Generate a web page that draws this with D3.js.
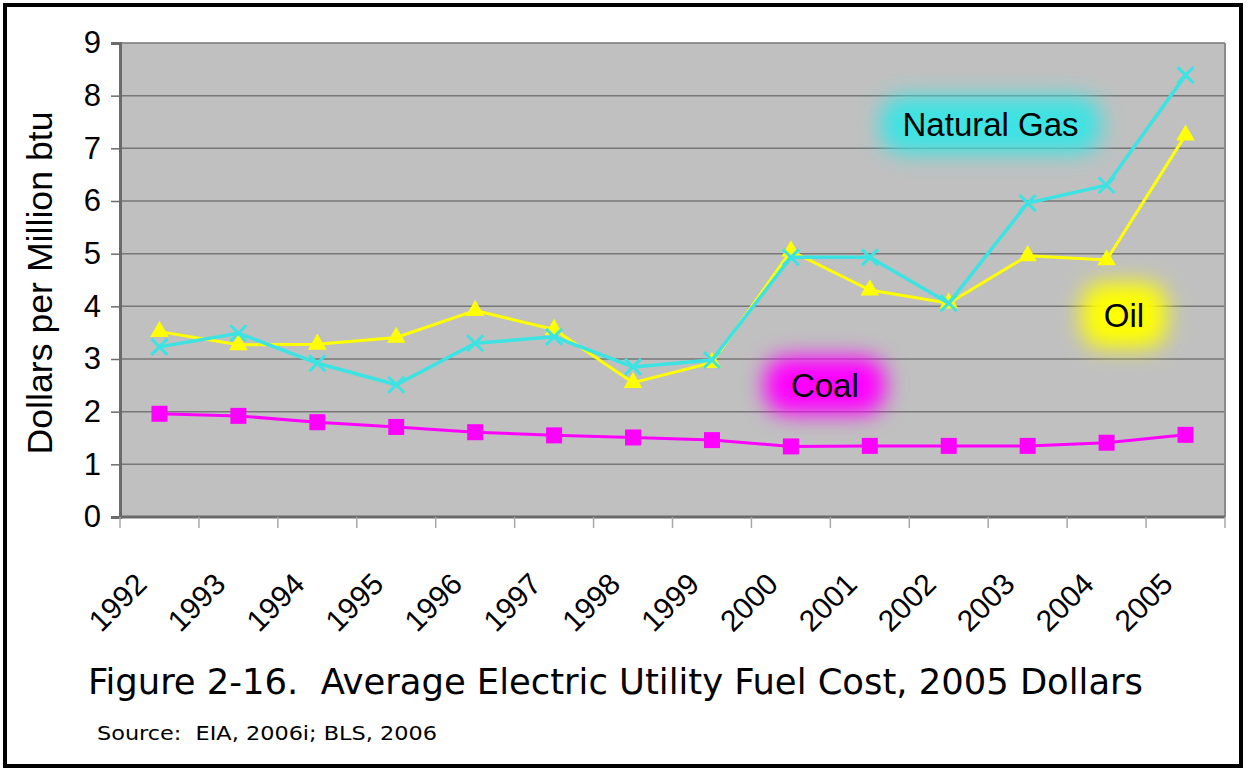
<!DOCTYPE html>
<html>
<head>
<meta charset="utf-8">
<script src="https://cdn.jsdelivr.net/npm/d3@7"></script>
<style>
  body { margin: 0; background: #fff; }
  svg { display: block; }
  text { white-space: pre; }
  .arial { font-family: Arial, "Liberation Sans", Arimo, Helvetica, sans-serif; }
  .cap { font-family: "DejaVu Sans Condensed", "DejaVu Sans", sans-serif; font-stretch: condensed; }
</style>
</head>
<body>
<div id="chart"></div>
<script>

// Fuel cost, 2005 dollars per million btu
var years = ["1992", "1993", "1994", "1995", "1996", "1997", "1998",
             "1999", "2000", "2001", "2002", "2003", "2004", "2005"];
var coal = [1.96, 1.92, 1.80, 1.71, 1.61, 1.55, 1.51, 1.46, 1.34, 1.35, 1.35, 1.35, 1.41, 1.56];
var oil  = [3.52, 3.27, 3.28, 3.41, 3.92, 3.56, 2.55, 2.93, 5.05, 4.31, 4.06, 4.96, 4.88, 7.25];
var gas  = [3.23, 3.49, 2.92, 2.51, 3.30, 3.42, 2.85, 2.98, 4.93, 4.93, 4.06, 5.96, 6.30, 8.39];
var yTicks = [0, 1, 2, 3, 4, 5, 6, 7, 8, 9];

// series labels: position given as (category index, value)
var seriesLabels = [
    { text: "Natural Gas", idx: 11.03, v: 7.23, color: "#3de3e3", padX: 22, padY: 14 },
    { text: "Coal",        idx: 8.93,  v: 2.28, color: "#ff00ff", padX: 26, padY: 14 },
    { text: "Oil",         idx: 12.72, v: 3.61, color: "#ffff00", padX: 22, padY: 18 }
];


/*
 *  FuelChart - Object constructor function
 */
FuelChart = function(_parentElement) {
    this.parentElement = _parentElement;
    this.initVis();
}

FuelChart.prototype.initVis = function() {
    var vis = this;

    vis.width = 1249;
    vis.height = 771;
    vis.plot = { left: 120, right: 1225, top: 43, bottom: 517 };

    vis.svg = d3.select("#" + vis.parentElement).append("svg")
        .attr("width", vis.width)
        .attr("height", vis.height);

    // blur filter for the glowing labels
    var defs = vis.svg.append("defs");
    defs.append("filter")
        .attr("id", "glow")
        .attr("x", "-60%").attr("y", "-80%")
        .attr("width", "220%").attr("height", "260%")
      .append("feGaussianBlur")
        .attr("stdDeviation", 11);

    // outer frame
    vis.svg.append("rect")
        .attr("x", 5).attr("y", 5)
        .attr("width", 1236).attr("height", 761)
        .attr("fill", "none")
        .attr("stroke", "#000")
        .attr("stroke-width", 4);

    vis.x = d3.scaleBand().domain(years).range([vis.plot.left, vis.plot.right]);
    vis.xi = d3.scaleLinear().domain([0, years.length]).range([vis.plot.left, vis.plot.right]);
    vis.y = d3.scaleLinear().domain([0, 9]).range([vis.plot.bottom, vis.plot.top]);

    vis.updateVis();
}

FuelChart.prototype.updateVis = function() {
    var vis = this;
    var p = vis.plot;

    // plot background
    vis.svg.append("rect")
        .attr("x", p.left).attr("y", p.top)
        .attr("width", p.right - p.left).attr("height", p.bottom - p.top)
        .attr("fill", "#c0c0c0");

    // gridlines
    vis.svg.append("g")
        .selectAll("line").data(yTicks.filter(function(d) { return d > 0; }))
        .enter().append("line")
        .attr("x1", p.left).attr("x2", p.right)
        .attr("y1", function(d) { return vis.y(d); })
        .attr("y2", function(d) { return vis.y(d); })
        .attr("stroke", "#777")
        .attr("stroke-width", 1.5);

    // right border
    vis.svg.append("line")
        .attr("x1", p.right).attr("x2", p.right)
        .attr("y1", p.top).attr("y2", p.bottom)
        .attr("stroke", "#8a8a8a").attr("stroke-width", 2);

    // y axis
    var yAxis = d3.axisLeft(vis.y).tickValues(yTicks).tickSize(9).tickPadding(10);
    var yg = vis.svg.append("g")
        .attr("transform", "translate(" + p.left + ",0)")
        .call(yAxis)
        .attr("font-family", null)
        .attr("font-size", null);
    yg.select(".domain").attr("stroke", "#6b6b6b").attr("stroke-width", 3);
    yg.selectAll(".tick line").attr("stroke", "#6b6b6b").attr("stroke-width", 1.5);
    yg.selectAll(".tick text")
        .attr("class", "arial")
        .attr("font-size", 31)
        .attr("fill", "#000");

    // x axis: ticks on category boundaries
    var xg = vis.svg.append("g");
    xg.append("line")
        .attr("x1", p.left).attr("x2", p.right)
        .attr("y1", p.bottom).attr("y2", p.bottom)
        .attr("stroke", "#6b6b6b").attr("stroke-width", 3);
    xg.selectAll(".xtick").data(d3.range(years.length + 1))
        .enter().append("line")
        .attr("class", "xtick")
        .attr("x1", function(i) { return vis.xi(i); })
        .attr("x2", function(i) { return vis.xi(i); })
        .attr("y1", p.bottom).attr("y2", p.bottom + 11)
        .attr("stroke", "#a8a8a8").attr("stroke-width", 1.5);
    xg.selectAll(".xlabel").data(years)
        .enter().append("text")
        .attr("class", "arial")
        .attr("transform", function(d) {
            return "translate(" + (vis.x(d) + vis.x.bandwidth() / 2 - 11) + "," + (p.bottom + 69) + ") rotate(-45)";
        })
        .attr("text-anchor", "end")
        .attr("font-size", 30)
        .text(function(d) { return d; });

    // y axis title
    vis.svg.append("text")
        .attr("class", "arial")
        .attr("transform", "translate(52,283) rotate(-90)")
        .attr("text-anchor", "middle")
        .attr("font-size", 35)
        .attr("textLength", 343)
        .attr("lengthAdjust", "spacingAndGlyphs")
        .text("Dollars per Million btu");

    // glowing series labels
    seriesLabels.forEach(function(l) {
        var g = vis.svg.append("g");
        var glow = g.append("rect").attr("fill", l.color).attr("filter", "url(#glow)");
        var t = g.append("text")
            .attr("class", "arial")
            .attr("x", vis.xi(l.idx))
            .attr("y", vis.y(l.v))
            .attr("text-anchor", "middle")
            .attr("font-size", 33)
            .attr("fill", "#000")
            .text(l.text);
        var bb = t.node().getBBox();
        glow.attr("x", bb.x - l.padX).attr("y", bb.y - l.padY + 4)
            .attr("width", bb.width + 2 * l.padX).attr("height", bb.height + 2 * l.padY - 8)
            .attr("rx", 22);
        t.raise();
    });

    var cx = function(d, i) { return vis.x(years[i]) + vis.x.bandwidth() / 2; };
    var line = d3.line()
        .x(function(d, i) { return cx(d, i); })
        .y(function(d) { return vis.y(d); });

    // coal
    vis.svg.append("path").datum(coal)
        .attr("d", line).attr("fill", "none")
        .attr("stroke", "#ff00ff").attr("stroke-width", 3);
    vis.svg.selectAll(".coalPt").data(coal)
        .enter().append("rect")
        .attr("class", "coalPt")
        .attr("x", function(d, i) { return cx(d, i) - 8; })
        .attr("y", function(d) { return vis.y(d) - 8; })
        .attr("width", 16).attr("height", 16)
        .attr("fill", "#ff00ff");

    // oil
    vis.svg.append("path").datum(oil)
        .attr("d", line).attr("fill", "none")
        .attr("stroke", "#ffff00").attr("stroke-width", 3);
    var tri = d3.symbol().type(d3.symbolTriangle).size(150);
    vis.svg.selectAll(".oilPt").data(oil)
        .enter().append("path")
        .attr("class", "oilPt")
        .attr("d", tri)
        .attr("transform", function(d, i) { return "translate(" + cx(d, i) + "," + vis.y(d) + ")"; })
        .attr("fill", "#ffff00");

    // natural gas
    vis.svg.append("path").datum(gas)
        .attr("d", line).attr("fill", "none")
        .attr("stroke", "#3de3e3").attr("stroke-width", 3.5);
    vis.svg.selectAll(".gasPt").data(gas)
        .enter().append("path")
        .attr("class", "gasPt")
        .attr("d", "M-8,-8L8,8M-8,8L8,-8")
        .attr("transform", function(d, i) { return "translate(" + cx(d, i) + "," + vis.y(d) + ")"; })
        .attr("stroke", "#3de3e3").attr("stroke-width", 3);

    // caption
    vis.svg.append("text")
        .attr("class", "cap")
        .attr("x", 88).attr("y", 694)
        .attr("font-size", 36)
        .attr("textLength", 1055)
        .attr("lengthAdjust", "spacingAndGlyphs")
        .text("Figure 2-16.  Average Electric Utility Fuel Cost, 2005 Dollars");

    vis.svg.append("text")
        .attr("class", "cap")
        .attr("x", 97).attr("y", 740)
        .attr("font-size", 19)
        .attr("textLength", 340)
        .attr("lengthAdjust", "spacingAndGlyphs")
        .text("Source:  EIA, 2006i; BLS, 2006");
}

new FuelChart("chart");
</script>
</body>
</html>
